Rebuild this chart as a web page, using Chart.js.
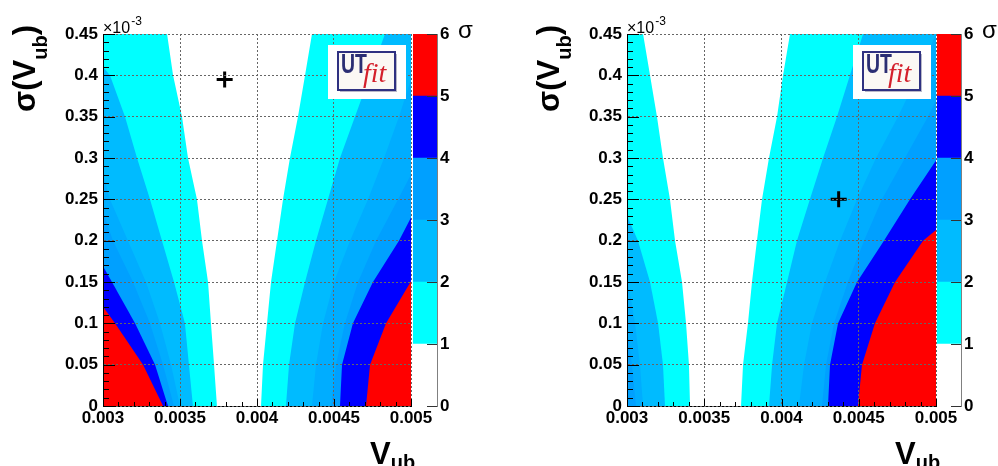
<!DOCTYPE html>
<html>
<head>
<meta charset="utf-8">
<script src="https://cdn.jsdelivr.net/npm/chart.js@4.4.1/dist/chart.umd.min.js"></script>
<style>
  html, body { margin: 0; padding: 0; background: #fff; }
  #wrap { position: relative; width: 998px; height: 466px; overflow: hidden; }
  canvas { position: absolute; top: 0; }
</style>
</head>
<body>
<div id="wrap">
  <canvas id="mainL" width="499" height="466" style="left:0px"></canvas>
  <canvas id="barL" width="70" height="466" style="left:413px"></canvas>
  <canvas id="mainR" width="499" height="466" style="left:499px"></canvas>
  <canvas id="barR" width="70" height="466" style="left:937px"></canvas>
</div>
<script>
// sigma(Vub) rows (in units of 1e-3) where the contours are sampled
const ySteps = [0, 0.05, 0.1, 0.15, 0.2, 0.25, 0.3, 0.35, 0.4, 0.45];

// palette levels
const sigmaEdges = [0, 1, 2, 3, 4, 5, 6];
const bandColors = ['#ffffff', '#00ffff', '#00bbff', '#00a0ff', '#0000ff', '#ff0000'];
// region colours beyond each contour, innermost first
const contourColors = ['#00ffff', '#00bbff', '#00adff', '#00a0ff', '#0000ff', '#ff0000'];

// left plot, low-Vub side: Vub of each contour at ySteps, and where it meets the frame
const leftLoX = [
  [0.003740, 0.003721, 0.003701, 0.003682, 0.003643, 0.003610, 0.003552, 0.003513, 0.003455, 0.003416],
  [0.003584, 0.003558, 0.003532, 0.003461, 0.003383, 0.003305, 0.003221, 0.003143, 0.003045],
  [0.003500, 0.003442, 0.003370, 0.003279, 0.003162, 0.003045],
  [0.003461, 0.003390, 0.003305, 0.003195, 0.003065],
  [0.003422, 0.003338, 0.003208, 0.003058],
  [0.003390, 0.003260, 0.003078]
];
const leftLoExit = [null, 0.41, 0.28, 0.235, 0.169, 0.12];

// left plot, high-Vub side
const leftHiX = [
  [0.004026, 0.004039, 0.004065, 0.004091, 0.004130, 0.004169, 0.004214, 0.004266, 0.004312, 0.004357],
  [0.004188, 0.004208, 0.004247, 0.004312, 0.004383, 0.004461, 0.004539, 0.004636, 0.004734, 0.004831],
  [0.004357, 0.004383, 0.004429, 0.004500, 0.004604, 0.004721, 0.004825, 0.004922],
  [0.004481, 0.004513, 0.004571, 0.004656, 0.004773, 0.004916],
  [0.004539, 0.004552, 0.004623, 0.004753, 0.004922],
  [0.004708, 0.004734, 0.004838]
];
const leftHiExit = [null, null, 0.395, 0.28, 0.228, 0.151];

// right plot, low-Vub side
const rightLoX = [
  [0.003408, 0.003401, 0.003382, 0.003356, 0.003311, 0.003278, 0.003233, 0.003194, 0.003149, 0.003104],
  [0.003246, 0.003233, 0.003201, 0.003149, 0.003071],
  [0.003104, 0.003084, 0.003052, 0.003006],
  [0.003058, 0.003032]
];
const rightLoExit = [null, 0.23, 0.155, 0.095];

// right plot, high-Vub side
const rightHiX = [
  [0.003738, 0.003751, 0.003783, 0.003809, 0.003841, 0.003874, 0.003919, 0.003971, 0.004010, 0.004055],
  [0.003919, 0.003939, 0.003971, 0.004036, 0.004100, 0.004184, 0.004269, 0.004359, 0.004443, 0.004528],
  [0.004113, 0.004146, 0.004197, 0.004282, 0.004379, 0.004489, 0.004612, 0.004754, 0.004883],
  [0.004262, 0.004288, 0.004340, 0.004430, 0.004534, 0.004650, 0.004799, 0.004948],
  [0.004301, 0.004314, 0.004366, 0.004489, 0.004663, 0.004832],
  [0.004495, 0.004521, 0.004605, 0.004735, 0.004916]
];
const rightHiExit = [null, null, 0.45, 0.37, 0.297, 0.213];

// measured point in each plot [Vub, sigma(Vub)]
const leftPoint = [0.00379, 0.395];
const rightPoint = [0.00437, 0.25];

const FONT = '"Liberation Sans", Arial, Helvetica, sans-serif';
const tickFont = { family: FONT, size: 17, weight: 'bold' };

function isMajor(v, step) {
  return Math.abs(v / step - Math.round(v / step)) < 1e-6;
}
function fmt(v, d) {
  return String(parseFloat(v.toFixed(d)));
}

// closed polygon between a contour and the left/right frame edge
function region(xs, exitY, edge, color) {
  const pts = [{ x: edge, y: 0 }];
  xs.forEach((x, i) => pts.push({ x: x, y: ySteps[i] }));
  pts.push({ x: edge, y: exitY === null ? ySteps[xs.length - 1] : exitY });
  return {
    data: pts, fill: 'shape', backgroundColor: color, borderColor: color,
    borderWidth: 0, pointRadius: 0, tension: 0
  };
}

function panelSets(loX, loExit, hiX, hiExit, point) {
  const sets = [{
    data: [{ x: point[0], y: point[1] }], showLine: false, fill: false,
    pointStyle: 'cross', pointRadius: 8, pointBorderWidth: 3,
    pointBorderColor: '#000', borderColor: '#000'
  }];
  // index 0 is painted last, so the highest sigma goes first
  for (let k = contourColors.length - 1; k >= 0; k--) {
    if (loX[k]) sets.push(region(loX[k], loExit[k], 0.003, contourColors[k]));
    if (hiX[k]) sets.push(region(hiX[k], hiExit[k], 0.005, contourColors[k]));
  }
  return sets;
}

// ticks pointing into the frame, axis titles and the logo
const decor = {
  id: 'decor',
  afterDraw(chart) {
    const { ctx, chartArea: a, scales: { x, y } } = chart;
    ctx.save();
    ctx.strokeStyle = '#000';
    ctx.lineWidth = 1;
    ctx.beginPath();
    x.ticks.forEach(t => {
      const px = Math.round(x.getPixelForValue(t.value)) + 0.5;
      const len = isMajor(t.value, 0.0005) ? 7 : 4;
      ctx.moveTo(px, a.bottom);
      ctx.lineTo(px, a.bottom - len);
    });
    y.ticks.forEach(t => {
      const py = Math.round(y.getPixelForValue(t.value)) + 0.5;
      const len = isMajor(t.value, 0.05) ? 12 : 6;
      ctx.moveTo(a.left, py);
      ctx.lineTo(a.left + len, py);
    });
    ctx.stroke();

    ctx.fillStyle = '#000';
    ctx.textAlign = 'left';
    ctx.textBaseline = 'alphabetic';

    // axis multiplier
    ctx.font = '16px ' + FONT;
    ctx.fillText('\u00d710', a.left, 33);
    const w10 = ctx.measureText('\u00d710').width;
    ctx.font = '12px ' + FONT;
    ctx.fillText('-3', a.left + w10 + 1, 25);

    // y title, rotated
    const big = 'bold 31px ' + FONT, small = 'bold 20px ' + FONT;
    ctx.save();
    ctx.translate(a.left - 68, 112);
    ctx.rotate(-Math.PI / 2);
    ctx.font = big;
    ctx.fillText('\u03c3(V', 0, 0);
    let u = ctx.measureText('\u03c3(V').width;
    ctx.font = small;
    ctx.fillText('ub', u, 12);
    u += ctx.measureText('ub').width;
    ctx.font = big;
    ctx.fillText(')', u, 0);
    ctx.restore();

    // x title
    ctx.font = big;
    const vx = a.right - 41;
    ctx.fillText('V', vx, 464);
    const wv = ctx.measureText('V').width;
    ctx.font = small;
    ctx.fillText('ub', vx + wv, 469);

    // logo
    const r = a.right;
    ctx.fillStyle = '#fff';
    ctx.fillRect(r - 83, 45, 78, 54);
    ctx.fillStyle = '#b8b8c8';
    ctx.fillRect(r - 71, 54, 57, 38);
    ctx.fillStyle = '#fbf8f4';
    ctx.fillRect(r - 73, 52, 57, 38);
    ctx.strokeStyle = '#2f3181';
    ctx.lineWidth = 2;
    ctx.strokeRect(r - 73, 52, 57, 38);
    ctx.save();
    ctx.translate(r - 70, 73);
    ctx.scale(0.72, 1);
    ctx.font = 'bold 27px ' + FONT;
    ctx.fillStyle = '#2b2e73';
    ctx.fillText('UT', 0, 0);
    ctx.restore();
    ctx.font = 'italic 28px "Liberation Serif", "Times New Roman", serif';
    ctx.fillStyle = '#d4202c';
    ctx.fillText('fit', r - 48, 82);
    ctx.restore();
  }
};

function makePanel(id, areaLeft, areaRight, sets) {
  const W = 499;
  return new Chart(document.getElementById(id), {
    type: 'line',
    data: { datasets: sets },
    options: {
      responsive: false,
      animation: false,
      devicePixelRatio: 1,
      events: [],
      layout: { padding: { left: 0, top: 34, right: W - areaRight, bottom: 0 } },
      plugins: { legend: { display: false }, tooltip: { enabled: false } },
      scales: {
        x: {
          type: 'linear', min: 0.003, max: 0.005,
          afterFit: s => { s.height = 60; },
          ticks: {
            stepSize: 0.0001, autoSkip: false, maxRotation: 0, minRotation: 0,
            padding: 2, color: '#000', font: tickFont,
            callback: v => isMajor(v, 0.0005) ? fmt(v, 4) : ''
          },
          grid: {
            drawTicks: false, z: 1, lineWidth: 1,
            color: c => isMajor(c.tick.value, 0.0005) ? '#666' : 'rgba(0,0,0,0)'
          },
          border: { color: '#000', width: 1, dash: [2, 2], z: 1 }
        },
        y: {
          type: 'linear', min: 0, max: 0.45,
          afterFit: s => { s.width = areaLeft; },
          ticks: {
            stepSize: 0.01, autoSkip: false, padding: 5, color: '#000', font: tickFont,
            callback: v => isMajor(v, 0.05) ? fmt(v, 2) : ''
          },
          grid: {
            drawTicks: false, z: 1, lineWidth: 1,
            color: c => isMajor(c.tick.value, 0.05) ? '#666' : 'rgba(0,0,0,0)'
          },
          border: { color: '#000', width: 1, dash: [2, 2], z: 1 }
        }
      }
    },
    plugins: [decor]
  });
}

// palette bar with its own axis
const paletteDecor = {
  id: 'paletteDecor',
  afterDraw(chart) {
    const { ctx, chartArea: a, scales: { y } } = chart;
    ctx.save();
    ctx.strokeStyle = '#333';
    ctx.lineWidth = 1;
    ctx.beginPath();
    y.ticks.forEach(t => {
      const py = Math.round(y.getPixelForValue(t.value)) + 0.5;
      ctx.moveTo(a.right, py);
      ctx.lineTo(a.right - 10, py);
    });
    ctx.stroke();
    ctx.fillStyle = '#000';
    ctx.font = '24px ' + FONT;
    ctx.textBaseline = 'alphabetic';
    ctx.fillText('\u03c3', 45, 38);
    ctx.restore();
  }
};

function makePalette(id) {
  return new Chart(document.getElementById(id), {
    type: 'bar',
    data: {
      labels: [''],
      datasets: bandColors.map((c, i) => ({
        data: [[sigmaEdges[i], sigmaEdges[i + 1]]],
        backgroundColor: c, borderWidth: 0,
        barPercentage: 1, categoryPercentage: 1, grouped: false
      }))
    },
    options: {
      responsive: false,
      animation: false,
      devicePixelRatio: 1,
      events: [],
      layout: { padding: { left: 0, top: 34, right: 0, bottom: 60 } },
      plugins: { legend: { display: false }, tooltip: { enabled: false } },
      scales: {
        x: { display: false },
        y: {
          position: 'right', min: 0, max: 6,
          afterFit: s => { s.width = 46; },
          ticks: { stepSize: 1, padding: 3, color: '#000', font: tickFont },
          grid: { drawOnChartArea: false, drawTicks: false },
          border: { color: '#808080', width: 1 }
        }
      }
    },
    plugins: [paletteDecor]
  });
}

makePanel('mainL', 103, 411, panelSets(leftLoX, leftLoExit, leftHiX, leftHiExit, leftPoint));
makePanel('mainR', 128, 437, panelSets(rightLoX, rightLoExit, rightHiX, rightHiExit, rightPoint));
makePalette('barL');
makePalette('barR');
</script>
</body>
</html>
